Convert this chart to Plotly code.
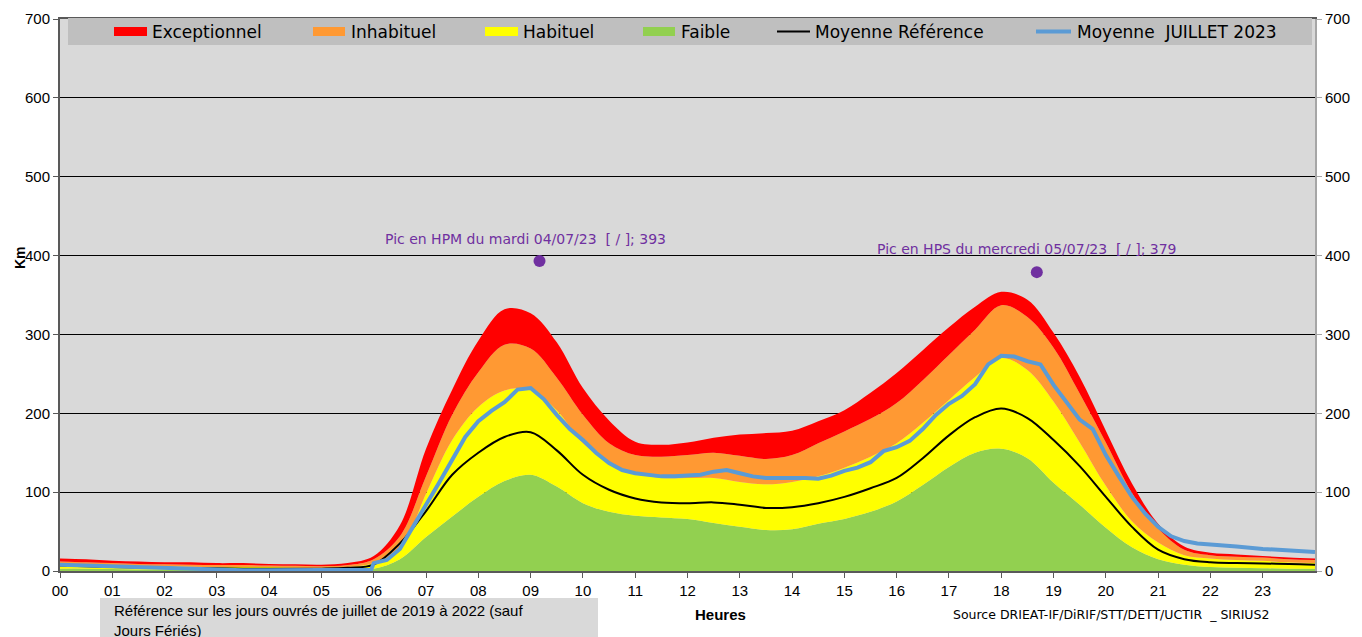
import plotly.graph_objects as go

# ---------------- data ----------------
HOURS = [0, 0.5, 1, 1.5, 2, 2.5, 3, 3.5, 4, 4.5, 5, 5.5, 6, 6.5, 7, 7.5, 8, 8.5, 9, 9.5,
         10, 10.5, 11, 11.5, 12, 12.5, 13, 13.5, 14, 14.5, 15, 15.5, 16, 16.5, 17, 17.5,
         18, 18.5, 19, 19.5, 20, 20.5, 21, 21.5, 22, 22.5, 23, 23.5, 24]

EXCEPTIONNEL = [16, 15, 13, 12, 11, 11, 10, 10, 9, 8.5, 8, 10, 19, 58, 155, 230, 292, 332, 327, 290,
                232, 191, 164, 160, 163, 169, 173, 175, 178, 190, 204, 226, 251, 280, 309, 335,
                354, 344, 302, 246, 178, 111, 60, 31, 23, 21, 19, 17, 16]
INHABITUEL = [12, 11, 10, 9, 8.5, 8, 7.5, 7.5, 7, 6.5, 6, 7.5, 15, 44, 120, 198, 252, 287, 282, 245,
              198, 162, 147, 145, 147, 150, 146, 142, 147, 162, 177, 193, 213, 242, 274, 306,
              337, 322, 283, 225, 163, 99, 54, 27, 20, 18, 17, 15, 14]
HABITUEL = [9, 8, 7, 6.5, 6, 5.5, 5, 5, 5, 4.5, 4, 5, 10, 27, 98, 166, 208, 229, 230, 204,
            162, 138, 124, 118, 118, 118, 113, 110, 113, 120, 131, 145, 162, 188, 217, 246,
            270, 255, 215, 163, 108, 63, 36, 20, 16, 14, 13, 11, 10]
FAIBLE = [3, 3, 2.5, 2, 2, 2, 2, 1.5, 1.5, 1.5, 1.5, 2, 3, 15, 43, 69, 94, 114, 122, 107,
          86, 75, 70, 68, 66, 61, 56, 52, 53, 60, 66, 75, 88, 109, 132, 150,
          155, 143, 112, 84, 55, 30, 15, 8, 5, 4, 3.5, 3, 3]
REFERENCE = [7, 6, 5, 4.5, 4, 3.5, 3.5, 3, 3, 3, 3, 4, 8, 35, 76, 122, 150, 170, 176, 153,
             122, 103, 92, 87, 86, 87, 84, 80, 81, 86, 94, 105, 118, 143, 172, 195,
             206, 194, 166, 133, 94, 56, 27, 15, 11, 10, 9.5, 9, 8]

HOURS_2023 = [0, 0.5, 1, 1.5, 2, 2.5, 3, 3.5, 4, 4.5, 5, 5.5, 5.95, 6.0, 6.25, 6.5, 6.75,
              7, 7.25, 7.5, 7.75, 8, 8.25, 8.5, 8.75, 9, 9.25, 9.5, 9.75,
              10, 10.25, 10.5, 10.75, 11, 11.25, 11.5, 11.75, 12, 12.25, 12.5, 12.75,
              13, 13.25, 13.5, 13.75, 14, 14.25, 14.5, 14.75, 15, 15.25, 15.5, 15.75,
              16, 16.25, 16.5, 16.75, 17, 17.25, 17.5, 17.75, 18, 18.25, 18.5, 18.75,
              19, 19.25, 19.5, 19.75, 20, 20.25, 20.5, 20.75, 21, 21.25, 21.5, 21.75,
              22, 22.5, 23, 23.5, 24]
JUILLET_2023 = [8, 7, 5, 4, 3, 2, 1.5, 1, 1, 1, 1, 1, 1.5, 10, 14, 28, 55,
                84, 112, 142, 170, 190, 203, 214, 230, 232, 218, 198, 180,
                166, 150, 137, 128, 124, 122, 120, 120, 121, 122, 126, 128,
                124, 120, 118, 118, 119, 118, 117, 121, 127, 131, 138, 152,
                157, 165, 180, 198, 212, 222, 237, 262, 273, 272, 266, 262,
                236, 213, 192, 180, 147, 120, 94, 73, 56, 44, 38, 35,
                34, 31, 28, 26, 24]

PEAK_HOURS = [9.17, 18.68]
PEAK_VALUES = [393, 379]
PEAK_LABELS = ["Pic en HPM du mardi 04/07/23\u00a0 [ / ]; 393",
               "Pic en HPS du mercredi 05/07/23\u00a0 [ / ]; 379"]
PEAK_LABEL_POS = [(6.18, 421), (15.58, 408)]

TICK_HOURS = list(range(24))
TICK_LABELS = ["00", "01", "02", "03", "04", "05", "06", "07", "08", "09", "10", "11",
               "12", "13", "14", "15", "16", "17", "18", "19", "20", "21", "22", "23"]
Y_TICKS = [0, 100, 200, 300, 400, 500, 600, 700]

# ---------------- styles ----------------
C_RED, C_ORANGE, C_YELLOW, C_GREEN = "#ff0000", "#ff9933", "#ffff00", "#92d050"
C_BLUE, C_PURPLE = "#5b9bd5", "#7030a0"
LEG_FONT = "DejaVu Sans"
ARIAL = "Liberation Sans, Arial"
SMOOTH = 1.0

# page body has an 8px default margin: compensate so the plot lands on screen
OFF = 8
SCREEN_W, SCREEN_H = 1362, 637
PLOT_X0, PLOT_X1, PLOT_Y0, PLOT_Y1 = 60, 1315, 19, 571   # screen pixels
W, H = SCREEN_W - OFF, SCREEN_H - OFF
L = PLOT_X0 - OFF
T = PLOT_Y0 - OFF
R = W - (PLOT_X1 - OFF)
B = H - (PLOT_Y1 - OFF)
PW, PH = PLOT_X1 - PLOT_X0, PLOT_Y1 - PLOT_Y0


def px(x):
    return (x - PLOT_X0) / PW


def py(y):
    return (PLOT_Y1 - y) / PH


fig = go.Figure()

bands = [("Faible", FAIBLE, C_GREEN, "tozeroy"),
         ("Habituel", HABITUEL, C_YELLOW, "tonexty"),
         ("Inhabituel", INHABITUEL, C_ORANGE, "tonexty"),
         ("Exceptionnel", EXCEPTIONNEL, C_RED, "tonexty")]
for name, vals, col, fill in bands:
    fig.add_trace(go.Scatter(x=HOURS, y=vals, name=name, mode="lines", fill=fill,
                             fillcolor=col, line=dict(width=0, color=col, shape="spline",
                                                      smoothing=SMOOTH),
                             hoverinfo="x+y+name"))

fig.add_trace(go.Scatter(x=HOURS, y=REFERENCE, name="Moyenne Référence", mode="lines",
                         line=dict(color="black", width=2, shape="spline", smoothing=SMOOTH)))
fig.add_trace(go.Scatter(x=HOURS_2023, y=JUILLET_2023, name="Moyenne  JUILLET 2023",
                         mode="lines", line=dict(color=C_BLUE, width=4)))
fig.add_trace(go.Scatter(x=PEAK_HOURS, y=PEAK_VALUES, mode="markers", yaxis="y2",
                         marker=dict(color=C_PURPLE, size=12), showlegend=False))

annotations = []
for (lx, ly), txt in zip(PEAK_LABEL_POS, PEAK_LABELS):
    annotations.append(dict(x=lx, y=ly, xref="x", yref="y", text=txt, showarrow=False,
                            xanchor="left", yanchor="middle",
                            font=dict(family=LEG_FONT, size=14, color=C_PURPLE)))

shapes = []
# manual legend
shapes.append(dict(type="rect", xref="paper", yref="paper", x0=px(68), x1=px(1312),
                   y0=py(45), y1=py(18), fillcolor="#bfbfbf", line=dict(width=0),
                   layer="above"))
legend_items = [("rect", C_RED, 114, 147, 150, "Exceptionnel"),
                ("rect", C_ORANGE, 313, 345, 349, "Inhabituel"),
                ("rect", C_YELLOW, 485, 518, 521, "Habituel"),
                ("rect", C_GREEN, 643, 675, 679, "Faible"),
                ("line", "black", 777, 810, 813, "Moyenne Référence"),
                ("line", C_BLUE, 1036, 1071, 1075, "Moyenne\u00a0 JUILLET 2023")]
for kind, col, x0, x1, tx, label in legend_items:
    if kind == "rect":
        shapes.append(dict(type="rect", xref="paper", yref="paper", x0=px(x0), x1=px(x1),
                           y0=py(36), y1=py(27), fillcolor=col, line=dict(width=0),
                           layer="above"))
    else:
        shapes.append(dict(type="line", xref="paper", yref="paper", x0=px(x0), x1=px(x1),
                           y0=py(31.5), y1=py(31.5),
                           line=dict(color=col, width=2 if col == "black" else 4),
                           layer="above"))
    annotations.append(dict(x=px(tx), y=py(31.5), xref="paper", yref="paper", text=label,
                            showarrow=False, xanchor="left", yanchor="middle",
                            font=dict(family=LEG_FONT, size=17, color="black")))

# bottom-left note box
shapes.append(dict(type="rect", xref="paper", yref="paper", x0=px(100), x1=px(598),
                   y0=py(640), y1=py(598), fillcolor="#d9d9d9", line=dict(width=0)))
annotations.append(dict(x=px(112), y=py(600), xref="paper", yref="paper",
                        text="Référence sur les jours ouvrés de juillet de 2019 à 2022 (sauf<br>Jours Fériés)",
                        showarrow=False, xanchor="left", yanchor="top", align="left",
                        font=dict(family=ARIAL, size=15, color="black")))
annotations.append(dict(x=px(720), y=py(614), xref="paper", yref="paper", text="<b>Heures</b>",
                        showarrow=False, xanchor="center", yanchor="middle",
                        font=dict(family=ARIAL, size=15, color="black")))
annotations.append(dict(x=px(951), y=py(614), xref="paper", yref="paper",
                        text="Source DRIEAT-IF/DiRIF/STT/DETT/UCTIR\u00a0 _ SIRIUS2",
                        showarrow=False, xanchor="left", yanchor="middle",
                        font=dict(family=LEG_FONT, size=12.5, color="black")))
annotations.append(dict(x=px(20), y=py(258), xref="paper", yref="paper", text="<b>Km</b>",
                        showarrow=False, xanchor="center", yanchor="middle", textangle=-90,
                        font=dict(family=ARIAL, size=14, color="black")))

axis_font = dict(family=ARIAL, size=15, color="black")
fig.update_layout(
    width=W, height=H,
    margin=dict(l=L, r=R, t=T, b=B, pad=0, autoexpand=False),
    paper_bgcolor="white", plot_bgcolor="#d9d9d9",
    showlegend=False,
    xaxis=dict(range=[0, 24], tickvals=TICK_HOURS, ticktext=TICK_LABELS, ticks="outside",
               ticklen=5, tickcolor="#595959", showgrid=False, zeroline=False,
               showline=True, linecolor="#595959", linewidth=1.5, mirror=True,
               tickfont=axis_font),
    yaxis=dict(range=[0, 700], tickvals=Y_TICKS, ticks="outside", ticklen=5,
               tickcolor="#595959", showgrid=True, gridcolor="black", gridwidth=1,
               zeroline=False, showline=True, linecolor="#595959", linewidth=2,
               tickfont=axis_font),
    yaxis2=dict(range=[0, 700], tickvals=Y_TICKS, overlaying="y", side="right",
                ticks="outside", ticklen=5, tickcolor="#a6a6a6", showgrid=False,
                zeroline=False, showline=True, linecolor="#a6a6a6", linewidth=2,
                tickfont=axis_font),
    shapes=shapes, annotations=annotations,
)

fig.write_html("out.html")
